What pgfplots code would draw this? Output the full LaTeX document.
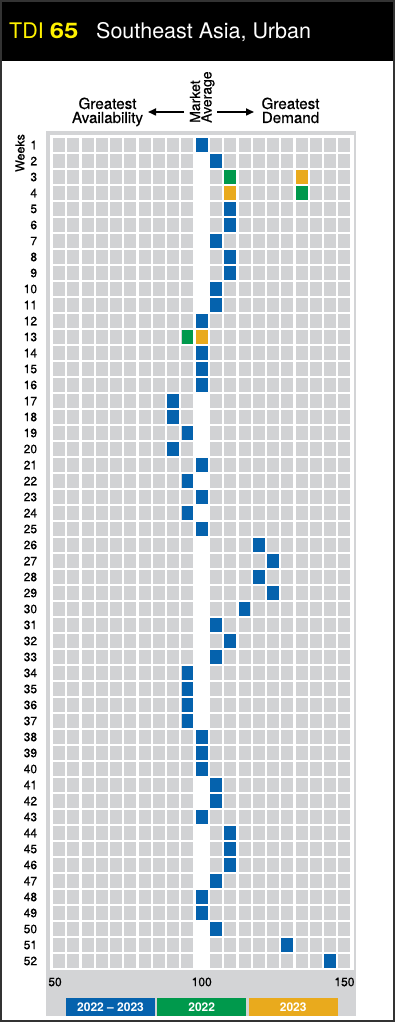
\documentclass[border=0pt]{standalone}
\usepackage{pgfplots}
\pgfplotsset{compat=1.18}
\usepackage{fontspec}
\setmainfont{TeX Gyre Heros}
\newfontfamily\medfont{TeX Gyre Heros}[FakeBold=0.5]
\usepackage{graphicx}
\usetikzlibrary{arrows.meta}
\definecolor{tdiblue}{HTML}{0562AD}
\definecolor{tdigreen}{HTML}{00994C}
\definecolor{tdiorange}{HTML}{E9AA1D}
\definecolor{cellgray}{HTML}{D1D2D4}
\definecolor{panelgray}{HTML}{D3D4D6}
\definecolor{tdiyellow}{HTML}{FFF200}
\definecolor{framegray}{HTML}{333333}
\pgfdeclareplotmark{cell}{\pgfpathrectangle{\pgfpoint{-5.9pt}{-7pt}}{\pgfpoint{11.8pt}{14pt}}\pgfusepathqfill}
\begin{document}
\begin{tikzpicture}[x=1pt,y=1pt]
\fill[white] (0,0) rectangle (395,1022);
\fill[black] (0,961) rectangle (395,1022);
\draw[framegray, line width=2pt] (1,1) rectangle (394,1021);
% title
\node[anchor=base west, inner sep=0pt, text=tdiyellow, font=\fontsize{21.5}{21.5}\selectfont] at (9,983) {TDI \scalebox{1.2}[1]{\textbf{65}}};
\node[anchor=base west, inner sep=0pt, text=white, font=\fontsize{21.5}{21.5}\selectfont] at (96,983) {Southeast Asia, Urban};
% header annotations
\node[anchor=base, inner sep=0pt, font=\medfont\fontsize{15.2}{15.2}\selectfont] at (107.5,913) {Greatest};
\node[anchor=base, inner sep=0pt, font=\medfont\fontsize{15.2}{15.2}\selectfont] at (107.5,899) {Availability};
\node[anchor=base, inner sep=0pt, font=\medfont\fontsize{15.2}{15.2}\selectfont] at (290.5,913) {Greatest};
\node[anchor=base, inner sep=0pt, font=\medfont\fontsize{15.2}{15.2}\selectfont] at (290.5,899) {Demand};
\node[rotate=90, anchor=base west, inner sep=0pt, font=\medfont\fontsize{14}{14}\selectfont] at (200,899) {Market};
\node[rotate=90, anchor=base west, inner sep=0pt, font=\medfont\fontsize{14}{14}\selectfont] at (211.5,899) {Average};
\draw[-{Triangle[length=8pt,width=7pt]}, line width=1.6pt] (184,910) -- (148,910);
\draw[-{Triangle[length=8pt,width=7pt]}, line width=1.6pt] (217,910) -- (254,910);
\node[rotate=90, inner sep=0pt, font=\medfont\fontsize{12.5}{12.5}\selectfont] at (20,869) {Weeks};
% panel
\fill[panelgray] (46,6) rectangle (356,891);
\fill[white] (50,51.5) rectangle (353.5,886.5);
\begin{axis}[
  at={(51.9pt,53pt)}, anchor=south west,
  width=299.7pt, height=832pt, scale only axis,
  xmin=47.5, xmax=152.5, ymin=0.5, ymax=52.5, y dir=reverse,
  axis background/.style={fill=cellgray},
  axis line style={draw=none},
  xtick={50,100,150},
  xticklabels={\hspace*{-8pt}50,100,150},
  ytick={1,2,3,4,5,6,7,8,9,10,11,12,13,14,15,16,17,18,19,20,21,22,23,24,25,26,27,28,29,30,31,32,33,34,35,36,37,38,39,40,41,42,43,44,45,46,47,48,49,50,51,52},
  minor xtick={47.5,52.5,57.5,62.5,67.5,72.5,77.5,82.5,87.5,92.5,97.5,102.5,107.5,112.5,117.5,122.5,127.5,132.5,137.5,142.5,147.5,152.5},
  minor ytick={0.5,1.5,2.5,3.5,4.5,5.5,6.5,7.5,8.5,9.5,10.5,11.5,12.5,13.5,14.5,15.5,16.5,17.5,18.5,19.5,20.5,21.5,22.5,23.5,24.5,25.5,26.5,27.5,28.5,29.5,30.5,31.5,32.5,33.5,34.5,35.5,36.5,37.5,38.5,39.5,40.5,41.5,42.5,43.5,44.5,45.5,46.5,47.5,48.5,49.5,50.5,51.5,52.5},
  xminorgrids=true, yminorgrids=true,
  minor x grid style={white, line width=2.3pt},
  minor y grid style={white, line width=1.7pt},
  major tick length=0pt, minor tick length=0pt,
  /pgf/number format/assume math mode=true,
  tick label style={font=\medfont\fontsize{12}{12}\selectfont},
  xticklabel style={anchor=north, inner sep=0pt, yshift=-8.4pt},
  yticklabel style={anchor=east, inner sep=0pt, xshift=-14.6pt},
]
\addplot[fill=white, draw=none] coordinates {(97.5,0.5) (102.5,0.5) (102.5,52.5) (97.5,52.5)} -- cycle;
\addplot[only marks, mark=cell, color=tdiblue] coordinates {
(100,1) (105,2) (110,5) (110,6) (105,7) (110,8) (110,9) (105,10) (105,11) (100,12)
(100,14) (100,15) (100,16) (90,17) (90,18) (95,19) (90,20) (100,21) (95,22) (100,23)
(95,24) (100,25) (120,26) (125,27) (120,28) (125,29) (115,30) (105,31) (110,32) (105,33)
(95,34) (95,35) (95,36) (95,37) (100,38) (100,39) (100,40) (105,41) (105,42) (100,43)
(110,44) (110,45) (110,46) (105,47) (100,48) (100,49) (105,50) (130,51) (145,52)};
\addplot[only marks, mark=cell, color=tdigreen] coordinates {(110,3) (135,4) (95,13)};
\addplot[only marks, mark=cell, color=tdiorange] coordinates {(135,3) (110,4) (100,13)};
\end{axis}
% legend
\node[fill=tdiblue, minimum width=88.7pt, minimum height=18pt, anchor=south west, inner sep=0pt, text=white, font=\bfseries\fontsize{12}{12}\selectfont] at (66,6) {2022 – 2023};
\node[fill=tdigreen, minimum width=89pt, minimum height=18pt, anchor=south west, inner sep=0pt, text=white, font=\bfseries\fontsize{12}{12}\selectfont] at (157,6) {2022};
\node[fill=tdiorange, minimum width=88.6pt, minimum height=18pt, anchor=south west, inner sep=0pt, text=white, font=\bfseries\fontsize{12}{12}\selectfont] at (248.7,6) {2023};
\pgfresetboundingbox
\path[use as bounding box] (0,0) rectangle (395,1022);
\end{tikzpicture}
\end{document}
